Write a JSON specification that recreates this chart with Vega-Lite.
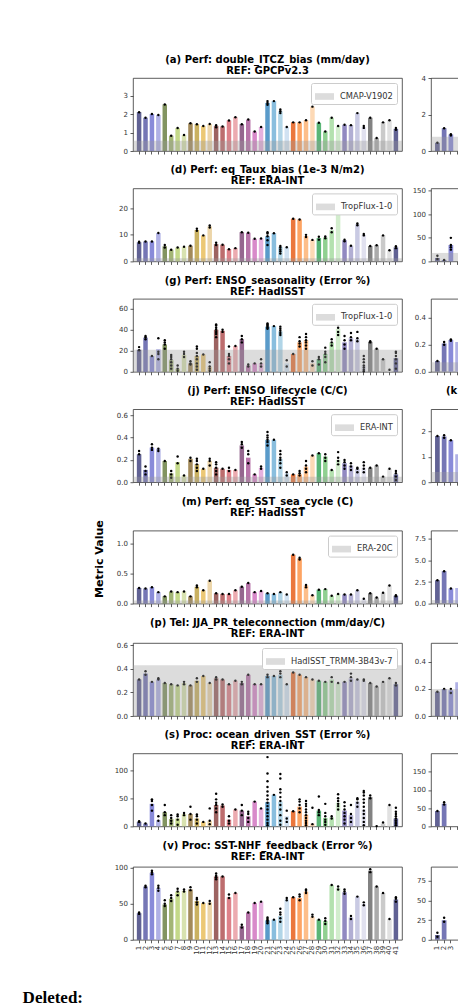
{
"$schema": "https://vega.github.io/schema/vega-lite/v6.json",
"background": "white",
"padding": {"left": 22, "top": 54, "right": 0, "bottom": 0},
"columns": 2,
"spacing": {"row": 9.4, "column": 8},
"resolve": {"scale": {"fill": "independent"}, "legend": {"fill": "independent"}},
"title": {"text": "Deleted:", "orient": "bottom", "anchor": "start", "frame": "bounds", "font": "Liberation Serif", "fontSize": 17, "fontWeight": "bold", "color": "black", "dx": -70, "offset": 35},
"datasets": {
"refs": [
{"p":"a","v":0.55,"n":"CMAP-V1902"},{"p":"d","v":1.2,"n":"TropFlux-1-0"},{"p":"g","v":21,"n":"TropFlux-1-0"},{"p":"j","v":0.05,"n":"ERA-INT"},{"p":"m","v":0.05,"n":"ERA-20C"},{"p":"pp","v":0.43,"n":"HadISST_TRMM-3B43v-7"},
{"p":"b","v":0.78,"n":"ref"},{"p":"e","v":18,"n":"ref"},{"p":"h","v":0.07,"n":"ref"},{"p":"k","v":0.4,"n":"ref"},{"p":"n","v":0.4,"n":"ref"},{"p":"q","v":0.2,"n":"ref"}
],
"bars": [
{"p":"a","m":1,"v":2.1},{"p":"a","m":2,"v":1.8},{"p":"a","m":3,"v":2.0},{"p":"a","m":4,"v":1.95},{"p":"a","m":5,"v":2.52},{"p":"a","m":6,"v":0.83},{"p":"a","m":7,"v":1.24},{"p":"a","m":8,"v":0.87},{"p":"a","m":9,"v":1.5},{"p":"a","m":10,"v":1.45},{"p":"a","m":11,"v":1.35},{"p":"a","m":12,"v":1.46},{"p":"a","m":13,"v":1.35},{"p":"a","m":14,"v":1.33},{"p":"a","m":15,"v":1.65},{"p":"a","m":16,"v":1.83},{"p":"a","m":17,"v":1.45},{"p":"a","m":18,"v":1.7},{"p":"a","m":19,"v":1.05},{"p":"a","m":20,"v":1.3},{"p":"a","m":21,"v":2.6},{"p":"a","m":22,"v":2.7},{"p":"a","m":23,"v":2.15},{"p":"a","m":24,"v":1.3},{"p":"a","m":25,"v":1.55},{"p":"a","m":26,"v":1.55},{"p":"a","m":27,"v":1.66},{"p":"a","m":28,"v":2.4},{"p":"a","m":29,"v":1.53},{"p":"a","m":30,"v":1.06},{"p":"a","m":31,"v":1.8},{"p":"a","m":32,"v":1.35},{"p":"a","m":33,"v":1.42},{"p":"a","m":34,"v":1.4},{"p":"a","m":35,"v":2.05},{"p":"a","m":36,"v":1.3},{"p":"a","m":37,"v":1.8},{"p":"a","m":38,"v":0.7},{"p":"a","m":39,"v":1.55},{"p":"a","m":40,"v":1.66},{"p":"a","m":41,"v":1.2},
{"p":"d","m":1,"v":7.2},{"p":"d","m":2,"v":7.5},{"p":"d","m":3,"v":7.5},{"p":"d","m":4,"v":10.7},{"p":"d","m":5,"v":5.7},{"p":"d","m":6,"v":4.4},{"p":"d","m":7,"v":5.2},{"p":"d","m":8,"v":5.5},{"p":"d","m":9,"v":5.9},{"p":"d","m":10,"v":11.8},{"p":"d","m":11,"v":9.8},{"p":"d","m":12,"v":13.2},{"p":"d","m":13,"v":6.5},{"p":"d","m":14,"v":6.3},{"p":"d","m":15,"v":4.6},{"p":"d","m":16,"v":5.0},{"p":"d","m":17,"v":11.0},{"p":"d","m":18,"v":10.8},{"p":"d","m":19,"v":8.5},{"p":"d","m":20,"v":8.6},{"p":"d","m":21,"v":9.5},{"p":"d","m":22,"v":10.6},{"p":"d","m":23,"v":5.5},{"p":"d","m":24,"v":5.3},{"p":"d","m":25,"v":16.1},{"p":"d","m":26,"v":15.8},{"p":"d","m":27,"v":9.5},{"p":"d","m":28,"v":8.1},{"p":"d","m":29,"v":8.8},{"p":"d","m":30,"v":9.0},{"p":"d","m":31,"v":11.7},{"p":"d","m":32,"v":18.6},{"p":"d","m":33,"v":8.0},{"p":"d","m":34,"v":5.9},{"p":"d","m":35,"v":14.0},{"p":"d","m":36,"v":10.0},{"p":"d","m":37,"v":5.8},{"p":"d","m":38,"v":6.1},{"p":"d","m":39,"v":9.8},{"p":"d","m":40,"v":4.2},{"p":"d","m":41,"v":5.3},
{"p":"g","m":1,"v":21},{"p":"g","m":2,"v":32.5},{"p":"g","m":3,"v":15},{"p":"g","m":4,"v":21.5},{"p":"g","m":5,"v":26},{"p":"g","m":6,"v":11},{"p":"g","m":7,"v":3},{"p":"g","m":8,"v":16},{"p":"g","m":9,"v":8},{"p":"g","m":10,"v":15},{"p":"g","m":11,"v":16.5},{"p":"g","m":12,"v":5},{"p":"g","m":13,"v":40},{"p":"g","m":14,"v":39},{"p":"g","m":15,"v":15},{"p":"g","m":16,"v":24.5},{"p":"g","m":17,"v":31},{"p":"g","m":18,"v":6},{"p":"g","m":19,"v":8},{"p":"g","m":20,"v":8},{"p":"g","m":21,"v":43},{"p":"g","m":22,"v":43.5},{"p":"g","m":23,"v":38.5},{"p":"g","m":24,"v":8},{"p":"g","m":25,"v":17},{"p":"g","m":26,"v":28},{"p":"g","m":27,"v":30},{"p":"g","m":28,"v":8},{"p":"g","m":29,"v":12},{"p":"g","m":30,"v":17},{"p":"g","m":31,"v":28},{"p":"g","m":32,"v":41},{"p":"g","m":33,"v":28},{"p":"g","m":34,"v":32},{"p":"g","m":35,"v":31},{"p":"g","m":36,"v":6},{"p":"g","m":37,"v":28.5},{"p":"g","m":38,"v":22},{"p":"g","m":39,"v":12},{"p":"g","m":40,"v":2},{"p":"g","m":41,"v":13},
{"p":"j","m":1,"v":0.25},{"p":"j","m":2,"v":0.11},{"p":"j","m":3,"v":0.31},{"p":"j","m":4,"v":0.3},{"p":"j","m":5,"v":0.19},{"p":"j","m":6,"v":0.08},{"p":"j","m":7,"v":0.18},{"p":"j","m":8,"v":0.06},{"p":"j","m":9,"v":0.21},{"p":"j","m":10,"v":0.16},{"p":"j","m":11,"v":0.12},{"p":"j","m":12,"v":0.19},{"p":"j","m":13,"v":0.13},{"p":"j","m":14,"v":0.12},{"p":"j","m":15,"v":0.11},{"p":"j","m":16,"v":0.11},{"p":"j","m":17,"v":0.33},{"p":"j","m":18,"v":0.22},{"p":"j","m":19,"v":0.07},{"p":"j","m":20,"v":0.13},{"p":"j","m":21,"v":0.38},{"p":"j","m":22,"v":0.38},{"p":"j","m":23,"v":0.21},{"p":"j","m":24,"v":0.08},{"p":"j","m":25,"v":0.07},{"p":"j","m":26,"v":0.07},{"p":"j","m":27,"v":0.14},{"p":"j","m":28,"v":0.24},{"p":"j","m":29,"v":0.26},{"p":"j","m":30,"v":0.23},{"p":"j","m":31,"v":0.11},{"p":"j","m":32,"v":0.2},{"p":"j","m":33,"v":0.17},{"p":"j","m":34,"v":0.15},{"p":"j","m":35,"v":0.12},{"p":"j","m":36,"v":0.13},{"p":"j","m":37,"v":0.13},{"p":"j","m":38,"v":0.15},{"p":"j","m":39,"v":0.05},{"p":"j","m":40,"v":0.12},{"p":"j","m":41,"v":0.07},
{"p":"m","m":1,"v":0.26},{"p":"m","m":2,"v":0.25},{"p":"m","m":3,"v":0.27},{"p":"m","m":4,"v":0.19},{"p":"m","m":5,"v":0.12},{"p":"m","m":6,"v":0.2},{"p":"m","m":7,"v":0.19},{"p":"m","m":8,"v":0.2},{"p":"m","m":9,"v":0.12},{"p":"m","m":10,"v":0.28},{"p":"m","m":11,"v":0.22},{"p":"m","m":12,"v":0.38},{"p":"m","m":13,"v":0.17},{"p":"m","m":14,"v":0.16},{"p":"m","m":15,"v":0.16},{"p":"m","m":16,"v":0.22},{"p":"m","m":17,"v":0.28},{"p":"m","m":18,"v":0.34},{"p":"m","m":19,"v":0.19},{"p":"m","m":20,"v":0.21},{"p":"m","m":21,"v":0.17},{"p":"m","m":22,"v":0.16},{"p":"m","m":23,"v":0.19},{"p":"m","m":24,"v":0.15},{"p":"m","m":25,"v":0.81},{"p":"m","m":26,"v":0.75},{"p":"m","m":27,"v":0.3},{"p":"m","m":28,"v":0.14},{"p":"m","m":29,"v":0.23},{"p":"m","m":30,"v":0.24},{"p":"m","m":31,"v":0.13},{"p":"m","m":32,"v":0.16},{"p":"m","m":33,"v":0.15},{"p":"m","m":34,"v":0.15},{"p":"m","m":35,"v":0.22},{"p":"m","m":36,"v":0.08},{"p":"m","m":37,"v":0.17},{"p":"m","m":38,"v":0.1},{"p":"m","m":39,"v":0.18},{"p":"m","m":40,"v":0.3},{"p":"m","m":41,"v":0.13},
{"p":"pp","m":1,"v":0.31},{"p":"pp","m":2,"v":0.36},{"p":"pp","m":3,"v":0.29},{"p":"pp","m":4,"v":0.31},{"p":"pp","m":5,"v":0.28},{"p":"pp","m":6,"v":0.27},{"p":"pp","m":7,"v":0.26},{"p":"pp","m":8,"v":0.28},{"p":"pp","m":9,"v":0.26},{"p":"pp","m":10,"v":0.3},{"p":"pp","m":11,"v":0.34},{"p":"pp","m":12,"v":0.28},{"p":"pp","m":13,"v":0.32},{"p":"pp","m":14,"v":0.31},{"p":"pp","m":15,"v":0.27},{"p":"pp","m":16,"v":0.3},{"p":"pp","m":17,"v":0.28},{"p":"pp","m":18,"v":0.35},{"p":"pp","m":19,"v":0.27},{"p":"pp","m":20,"v":0.27},{"p":"pp","m":21,"v":0.34},{"p":"pp","m":22,"v":0.34},{"p":"pp","m":23,"v":0.35},{"p":"pp","m":24,"v":0.27},{"p":"pp","m":25,"v":0.37},{"p":"pp","m":26,"v":0.35},{"p":"pp","m":27,"v":0.33},{"p":"pp","m":28,"v":0.31},{"p":"pp","m":29,"v":0.3},{"p":"pp","m":30,"v":0.29},{"p":"pp","m":31,"v":0.31},{"p":"pp","m":32,"v":0.28},{"p":"pp","m":33,"v":0.29},{"p":"pp","m":34,"v":0.32},{"p":"pp","m":35,"v":0.31},{"p":"pp","m":36,"v":0.3},{"p":"pp","m":37,"v":0.28},{"p":"pp","m":38,"v":0.25},{"p":"pp","m":39,"v":0.29},{"p":"pp","m":40,"v":0.32},{"p":"pp","m":41,"v":0.27},
{"p":"s","m":1,"v":8},{"p":"s","m":2,"v":5},{"p":"s","m":3,"v":40},{"p":"s","m":4,"v":11},{"p":"s","m":5,"v":25},{"p":"s","m":6,"v":13},{"p":"s","m":7,"v":14},{"p":"s","m":8,"v":22},{"p":"s","m":9,"v":22},{"p":"s","m":10,"v":14},{"p":"s","m":11,"v":8},{"p":"s","m":12,"v":10},{"p":"s","m":13,"v":38},{"p":"s","m":14,"v":37},{"p":"s","m":15,"v":12},{"p":"s","m":16,"v":30},{"p":"s","m":17,"v":28},{"p":"s","m":18,"v":18},{"p":"s","m":19,"v":44},{"p":"s","m":20,"v":32},{"p":"s","m":21,"v":43},{"p":"s","m":22,"v":56},{"p":"s","m":23,"v":44},{"p":"s","m":24,"v":18},{"p":"s","m":25,"v":27},{"p":"s","m":26,"v":35},{"p":"s","m":27,"v":21},{"p":"s","m":28,"v":5},{"p":"s","m":29,"v":28},{"p":"s","m":30,"v":15},{"p":"s","m":31,"v":16},{"p":"s","m":32,"v":42},{"p":"s","m":33,"v":28},{"p":"s","m":34,"v":20},{"p":"s","m":35,"v":44},{"p":"s","m":36,"v":30},{"p":"s","m":37,"v":52},{"p":"s","m":38,"v":0.5},{"p":"s","m":39,"v":5},{"p":"s","m":40,"v":37},{"p":"s","m":41,"v":14},
{"p":"v","m":1,"v":37},{"p":"v","m":2,"v":74},{"p":"v","m":3,"v":93},{"p":"v","m":4,"v":72},{"p":"v","m":5,"v":49},{"p":"v","m":6,"v":57},{"p":"v","m":7,"v":67},{"p":"v","m":8,"v":68},{"p":"v","m":9,"v":70},{"p":"v","m":10,"v":54},{"p":"v","m":11,"v":51},{"p":"v","m":12,"v":52},{"p":"v","m":13,"v":88},{"p":"v","m":14,"v":88},{"p":"v","m":15,"v":59},{"p":"v","m":16,"v":65},{"p":"v","m":17,"v":19},{"p":"v","m":18,"v":38},{"p":"v","m":19,"v":51},{"p":"v","m":20,"v":53},{"p":"v","m":21,"v":27},{"p":"v","m":22,"v":28},{"p":"v","m":23,"v":33},{"p":"v","m":24,"v":56},{"p":"v","m":25,"v":59},{"p":"v","m":26,"v":58},{"p":"v","m":27,"v":67},{"p":"v","m":28,"v":32},{"p":"v","m":29,"v":28},{"p":"v","m":30,"v":26},{"p":"v","m":31,"v":76},{"p":"v","m":32,"v":72},{"p":"v","m":33,"v":66},{"p":"v","m":34,"v":31},{"p":"v","m":35,"v":60},{"p":"v","m":36,"v":50},{"p":"v","m":37,"v":96},{"p":"v","m":38,"v":74},{"p":"v","m":39,"v":65},{"p":"v","m":40,"v":29},{"p":"v","m":41,"v":56},
{"p":"b","m":1,"v":0.45},{"p":"b","m":2,"v":1.25},{"p":"b","m":3,"v":0.9},
{"p":"e","m":1,"v":7},{"p":"e","m":2,"v":3},{"p":"e","m":3,"v":35},
{"p":"h","m":1,"v":0.08},{"p":"h","m":2,"v":0.21},{"p":"h","m":3,"v":0.235},{"p":"h","m":4,"v":0.22},
{"p":"k","m":1,"v":1.82},{"p":"k","m":2,"v":1.8},{"p":"k","m":3,"v":1.65},{"p":"k","m":4,"v":1.1},
{"p":"n","m":1,"v":2.7},{"p":"n","m":2,"v":3.75},{"p":"n","m":3,"v":1.75},{"p":"n","m":4,"v":1.8},
{"p":"q","m":1,"v":0.18},{"p":"q","m":2,"v":0.2},{"p":"q","m":3,"v":0.19},{"p":"q","m":4,"v":0.25},
{"p":"t","m":1,"v":42},{"p":"t","m":2,"v":62},
{"p":"w","m":1,"v":6},{"p":"w","m":2,"v":25}
],
"dots": [
{"p":"a","m":1,"v":2.1},{"p":"a","m":2,"v":1.8},{"p":"a","m":3,"v":2.0},{"p":"a","m":4,"v":1.95},{"p":"a","m":5,"v":2.52},{"p":"a","m":6,"v":0.83},{"p":"a","m":7,"v":1.24},{"p":"a","m":8,"v":0.87},{"p":"a","m":9,"v":1.5},{"p":"a","m":10,"v":1.45},{"p":"a","m":11,"v":1.35},{"p":"a","m":12,"v":1.46},{"p":"a","m":13,"v":1.28},{"p":"a","m":13,"v":1.4},{"p":"a","m":14,"v":1.33},{"p":"a","m":15,"v":1.65},{"p":"a","m":16,"v":1.83},{"p":"a","m":17,"v":1.45},{"p":"a","m":18,"v":1.7},{"p":"a","m":19,"v":1.05},{"p":"a","m":20,"v":1.3},{"p":"a","m":21,"v":2.5},{"p":"a","m":21,"v":2.6},{"p":"a","m":21,"v":2.7},{"p":"a","m":22,"v":2.7},{"p":"a","m":23,"v":2.05},{"p":"a","m":23,"v":2.15},{"p":"a","m":23,"v":2.25},{"p":"a","m":24,"v":1.3},{"p":"a","m":25,"v":1.55},{"p":"a","m":26,"v":1.55},{"p":"a","m":27,"v":1.66},{"p":"a","m":28,"v":2.4},{"p":"a","m":29,"v":1.53},{"p":"a","m":30,"v":1.06},{"p":"a","m":31,"v":1.8},{"p":"a","m":32,"v":1.35},{"p":"a","m":33,"v":1.42},{"p":"a","m":34,"v":1.4},{"p":"a","m":35,"v":2.05},{"p":"a","m":36,"v":1.25},{"p":"a","m":36,"v":1.35},{"p":"a","m":37,"v":1.8},{"p":"a","m":38,"v":0.7},{"p":"a","m":39,"v":1.55},{"p":"a","m":40,"v":1.66},{"p":"a","m":41,"v":1.15},{"p":"a","m":41,"v":1.25},
{"p":"d","m":1,"v":7.0},{"p":"d","m":1,"v":7.4},{"p":"d","m":2,"v":7.5},{"p":"d","m":3,"v":7.5},{"p":"d","m":4,"v":10.7},{"p":"d","m":5,"v":5.2},{"p":"d","m":5,"v":6.2},{"p":"d","m":6,"v":4.4},{"p":"d","m":7,"v":5.2},{"p":"d","m":8,"v":5.5},{"p":"d","m":9,"v":5.9},{"p":"d","m":10,"v":11.5},{"p":"d","m":10,"v":12.3},{"p":"d","m":11,"v":9.8},{"p":"d","m":12,"v":12.8},{"p":"d","m":12,"v":13.5},{"p":"d","m":13,"v":6.2},{"p":"d","m":13,"v":7.0},{"p":"d","m":14,"v":6.3},{"p":"d","m":15,"v":4.6},{"p":"d","m":16,"v":5.0},{"p":"d","m":17,"v":11.0},{"p":"d","m":18,"v":10.8},{"p":"d","m":19,"v":8.5},{"p":"d","m":20,"v":8.6},{"p":"d","m":21,"v":6.2},{"p":"d","m":21,"v":8.0},{"p":"d","m":21,"v":9.5},{"p":"d","m":21,"v":10.5},{"p":"d","m":21,"v":11.0},{"p":"d","m":22,"v":10.6},{"p":"d","m":23,"v":3.0},{"p":"d","m":23,"v":3.8},{"p":"d","m":23,"v":4.5},{"p":"d","m":23,"v":5.2},{"p":"d","m":23,"v":5.8},{"p":"d","m":24,"v":5.3},{"p":"d","m":25,"v":16.1},{"p":"d","m":26,"v":15.8},{"p":"d","m":27,"v":9.2},{"p":"d","m":27,"v":10.0},{"p":"d","m":28,"v":8.1},{"p":"d","m":29,"v":8.2},{"p":"d","m":29,"v":9.3},{"p":"d","m":30,"v":8.7},{"p":"d","m":30,"v":9.4},{"p":"d","m":31,"v":11.0},{"p":"d","m":31,"v":12.5},{"p":"d","m":32,"v":18.6},{"p":"d","m":33,"v":7.6},{"p":"d","m":33,"v":8.2},{"p":"d","m":34,"v":5.9},{"p":"d","m":35,"v":13.6},{"p":"d","m":35,"v":14.3},{"p":"d","m":36,"v":9.8},{"p":"d","m":36,"v":10.3},{"p":"d","m":37,"v":5.8},{"p":"d","m":38,"v":6.1},{"p":"d","m":39,"v":9.8},{"p":"d","m":40,"v":4.2},{"p":"d","m":41,"v":5.0},{"p":"d","m":41,"v":5.7},
{"p":"g","m":1,"v":20.5},{"p":"g","m":1,"v":23.5},{"p":"g","m":2,"v":31},{"p":"g","m":2,"v":33},{"p":"g","m":2,"v":34},{"p":"g","m":3,"v":15},{"p":"g","m":4,"v":12},{"p":"g","m":4,"v":17},{"p":"g","m":4,"v":19},{"p":"g","m":4,"v":32},{"p":"g","m":5,"v":22},{"p":"g","m":5,"v":26},{"p":"g","m":5,"v":28},{"p":"g","m":5,"v":30},{"p":"g","m":6,"v":3},{"p":"g","m":6,"v":6},{"p":"g","m":6,"v":9},{"p":"g","m":6,"v":12},{"p":"g","m":6,"v":14},{"p":"g","m":6,"v":16},{"p":"g","m":7,"v":1},{"p":"g","m":7,"v":3},{"p":"g","m":7,"v":6},{"p":"g","m":8,"v":14},{"p":"g","m":8,"v":17},{"p":"g","m":8,"v":19},{"p":"g","m":9,"v":7},{"p":"g","m":9,"v":8},{"p":"g","m":9,"v":10},{"p":"g","m":10,"v":2},{"p":"g","m":10,"v":5},{"p":"g","m":10,"v":8},{"p":"g","m":10,"v":12},{"p":"g","m":10,"v":15},{"p":"g","m":10,"v":18},{"p":"g","m":10,"v":22},{"p":"g","m":10,"v":24},{"p":"g","m":11,"v":16.5},{"p":"g","m":12,"v":1},{"p":"g","m":12,"v":3},{"p":"g","m":12,"v":5},{"p":"g","m":12,"v":9},{"p":"g","m":13,"v":33},{"p":"g","m":13,"v":36},{"p":"g","m":13,"v":38},{"p":"g","m":13,"v":40},{"p":"g","m":13,"v":42},{"p":"g","m":13,"v":44},{"p":"g","m":13,"v":45},{"p":"g","m":14,"v":38},{"p":"g","m":14,"v":40},{"p":"g","m":15,"v":8},{"p":"g","m":15,"v":12},{"p":"g","m":15,"v":15},{"p":"g","m":15,"v":17},{"p":"g","m":15,"v":24},{"p":"g","m":16,"v":24.5},{"p":"g","m":17,"v":28},{"p":"g","m":17,"v":31},{"p":"g","m":17,"v":34},{"p":"g","m":18,"v":5},{"p":"g","m":18,"v":7},{"p":"g","m":19,"v":8},{"p":"g","m":20,"v":5},{"p":"g","m":20,"v":8},{"p":"g","m":20,"v":12},{"p":"g","m":21,"v":41},{"p":"g","m":21,"v":42},{"p":"g","m":21,"v":43},{"p":"g","m":21,"v":44},{"p":"g","m":21,"v":45},{"p":"g","m":21,"v":46},{"p":"g","m":22,"v":43.5},{"p":"g","m":23,"v":35},{"p":"g","m":23,"v":37},{"p":"g","m":23,"v":39},{"p":"g","m":23,"v":41},{"p":"g","m":23,"v":43},{"p":"g","m":24,"v":5},{"p":"g","m":24,"v":11},{"p":"g","m":25,"v":17},{"p":"g","m":26,"v":24},{"p":"g","m":26,"v":27},{"p":"g","m":26,"v":29},{"p":"g","m":26,"v":33},{"p":"g","m":27,"v":22},{"p":"g","m":27,"v":25},{"p":"g","m":27,"v":28},{"p":"g","m":27,"v":30},{"p":"g","m":27,"v":33},{"p":"g","m":27,"v":36},{"p":"g","m":28,"v":6},{"p":"g","m":28,"v":10},{"p":"g","m":29,"v":7},{"p":"g","m":29,"v":12},{"p":"g","m":29,"v":14},{"p":"g","m":30,"v":9},{"p":"g","m":30,"v":14},{"p":"g","m":30,"v":17},{"p":"g","m":30,"v":19},{"p":"g","m":30,"v":23},{"p":"g","m":31,"v":25},{"p":"g","m":31,"v":28},{"p":"g","m":31,"v":31},{"p":"g","m":32,"v":35},{"p":"g","m":32,"v":38},{"p":"g","m":32,"v":42},{"p":"g","m":32,"v":45},{"p":"g","m":32,"v":47},{"p":"g","m":33,"v":22},{"p":"g","m":33,"v":26},{"p":"g","m":33,"v":30},{"p":"g","m":33,"v":34},{"p":"g","m":34,"v":30},{"p":"g","m":34,"v":33},{"p":"g","m":34,"v":37},{"p":"g","m":35,"v":29},{"p":"g","m":35,"v":32},{"p":"g","m":35,"v":38},{"p":"g","m":36,"v":0.5},{"p":"g","m":36,"v":2},{"p":"g","m":36,"v":4},{"p":"g","m":36,"v":6},{"p":"g","m":36,"v":9},{"p":"g","m":36,"v":12},{"p":"g","m":36,"v":15},{"p":"g","m":37,"v":28},{"p":"g","m":37,"v":29},{"p":"g","m":38,"v":22},{"p":"g","m":39,"v":12},{"p":"g","m":40,"v":2},{"p":"g","m":41,"v":3},{"p":"g","m":41,"v":8},{"p":"g","m":41,"v":12},{"p":"g","m":41,"v":15},{"p":"g","m":41,"v":18},{"p":"g","m":41,"v":19},
{"p":"j","m":1,"v":0.25},{"p":"j","m":1,"v":0.28},{"p":"j","m":2,"v":0.07},{"p":"j","m":2,"v":0.1},{"p":"j","m":2,"v":0.14},{"p":"j","m":3,"v":0.29},{"p":"j","m":3,"v":0.31},{"p":"j","m":3,"v":0.34},{"p":"j","m":4,"v":0.28},{"p":"j","m":4,"v":0.3},{"p":"j","m":5,"v":0.19},{"p":"j","m":6,"v":0.04},{"p":"j","m":6,"v":0.07},{"p":"j","m":6,"v":0.1},{"p":"j","m":7,"v":0.17},{"p":"j","m":7,"v":0.23},{"p":"j","m":8,"v":0.06},{"p":"j","m":9,"v":0.19},{"p":"j","m":9,"v":0.22},{"p":"j","m":10,"v":0.1},{"p":"j","m":10,"v":0.13},{"p":"j","m":10,"v":0.16},{"p":"j","m":10,"v":0.19},{"p":"j","m":10,"v":0.21},{"p":"j","m":11,"v":0.12},{"p":"j","m":12,"v":0.15},{"p":"j","m":12,"v":0.19},{"p":"j","m":12,"v":0.21},{"p":"j","m":13,"v":0.07},{"p":"j","m":13,"v":0.1},{"p":"j","m":13,"v":0.13},{"p":"j","m":13,"v":0.16},{"p":"j","m":13,"v":0.18},{"p":"j","m":14,"v":0.12},{"p":"j","m":15,"v":0.1},{"p":"j","m":15,"v":0.13},{"p":"j","m":16,"v":0.11},{"p":"j","m":17,"v":0.31},{"p":"j","m":17,"v":0.34},{"p":"j","m":17,"v":0.36},{"p":"j","m":18,"v":0.17},{"p":"j","m":18,"v":0.25},{"p":"j","m":18,"v":0.28},{"p":"j","m":19,"v":0.07},{"p":"j","m":20,"v":0.12},{"p":"j","m":20,"v":0.14},{"p":"j","m":21,"v":0.33},{"p":"j","m":21,"v":0.36},{"p":"j","m":21,"v":0.38},{"p":"j","m":21,"v":0.4},{"p":"j","m":21,"v":0.42},{"p":"j","m":21,"v":0.45},{"p":"j","m":22,"v":0.38},{"p":"j","m":23,"v":0.13},{"p":"j","m":23,"v":0.17},{"p":"j","m":23,"v":0.2},{"p":"j","m":23,"v":0.22},{"p":"j","m":23,"v":0.25},{"p":"j","m":23,"v":0.28},{"p":"j","m":24,"v":0.06},{"p":"j","m":24,"v":0.09},{"p":"j","m":25,"v":0.07},{"p":"j","m":26,"v":0.06},{"p":"j","m":26,"v":0.08},{"p":"j","m":26,"v":0.1},{"p":"j","m":27,"v":0.09},{"p":"j","m":27,"v":0.12},{"p":"j","m":27,"v":0.15},{"p":"j","m":27,"v":0.19},{"p":"j","m":28,"v":0.24},{"p":"j","m":29,"v":0.26},{"p":"j","m":30,"v":0.19},{"p":"j","m":30,"v":0.22},{"p":"j","m":30,"v":0.25},{"p":"j","m":31,"v":0.11},{"p":"j","m":32,"v":0.16},{"p":"j","m":32,"v":0.19},{"p":"j","m":32,"v":0.22},{"p":"j","m":32,"v":0.27},{"p":"j","m":33,"v":0.12},{"p":"j","m":33,"v":0.15},{"p":"j","m":33,"v":0.18},{"p":"j","m":33,"v":0.2},{"p":"j","m":34,"v":0.11},{"p":"j","m":34,"v":0.14},{"p":"j","m":34,"v":0.17},{"p":"j","m":35,"v":0.09},{"p":"j","m":35,"v":0.12},{"p":"j","m":35,"v":0.13},{"p":"j","m":36,"v":0.09},{"p":"j","m":36,"v":0.12},{"p":"j","m":36,"v":0.15},{"p":"j","m":36,"v":0.18},{"p":"j","m":37,"v":0.13},{"p":"j","m":38,"v":0.15},{"p":"j","m":39,"v":0.05},{"p":"j","m":40,"v":0.12},{"p":"j","m":41,"v":0.02},{"p":"j","m":41,"v":0.05},{"p":"j","m":41,"v":0.08},{"p":"j","m":41,"v":0.1},
{"p":"m","m":1,"v":0.26},{"p":"m","m":2,"v":0.25},{"p":"m","m":3,"v":0.27},{"p":"m","m":4,"v":0.19},{"p":"m","m":5,"v":0.12},{"p":"m","m":6,"v":0.2},{"p":"m","m":7,"v":0.19},{"p":"m","m":8,"v":0.2},{"p":"m","m":9,"v":0.12},{"p":"m","m":10,"v":0.27},{"p":"m","m":10,"v":0.3},{"p":"m","m":11,"v":0.22},{"p":"m","m":12,"v":0.38},{"p":"m","m":13,"v":0.17},{"p":"m","m":14,"v":0.16},{"p":"m","m":15,"v":0.16},{"p":"m","m":16,"v":0.22},{"p":"m","m":17,"v":0.28},{"p":"m","m":18,"v":0.34},{"p":"m","m":19,"v":0.19},{"p":"m","m":20,"v":0.21},{"p":"m","m":21,"v":0.17},{"p":"m","m":22,"v":0.16},{"p":"m","m":23,"v":0.19},{"p":"m","m":24,"v":0.15},{"p":"m","m":25,"v":0.81},{"p":"m","m":26,"v":0.73},{"p":"m","m":26,"v":0.76},{"p":"m","m":27,"v":0.27},{"p":"m","m":27,"v":0.31},{"p":"m","m":28,"v":0.14},{"p":"m","m":29,"v":0.23},{"p":"m","m":30,"v":0.24},{"p":"m","m":31,"v":0.13},{"p":"m","m":32,"v":0.16},{"p":"m","m":33,"v":0.15},{"p":"m","m":34,"v":0.15},{"p":"m","m":35,"v":0.22},{"p":"m","m":36,"v":0.08},{"p":"m","m":37,"v":0.17},{"p":"m","m":38,"v":0.1},{"p":"m","m":39,"v":0.18},{"p":"m","m":40,"v":0.3},{"p":"m","m":41,"v":0.12},{"p":"m","m":41,"v":0.14},
{"p":"pp","m":1,"v":0.31},{"p":"pp","m":2,"v":0.35},{"p":"pp","m":2,"v":0.38},{"p":"pp","m":3,"v":0.29},{"p":"pp","m":4,"v":0.31},{"p":"pp","m":4,"v":0.32},{"p":"pp","m":5,"v":0.28},{"p":"pp","m":6,"v":0.27},{"p":"pp","m":7,"v":0.26},{"p":"pp","m":8,"v":0.27},{"p":"pp","m":8,"v":0.29},{"p":"pp","m":9,"v":0.26},{"p":"pp","m":10,"v":0.29},{"p":"pp","m":10,"v":0.32},{"p":"pp","m":11,"v":0.34},{"p":"pp","m":12,"v":0.28},{"p":"pp","m":13,"v":0.31},{"p":"pp","m":13,"v":0.33},{"p":"pp","m":14,"v":0.31},{"p":"pp","m":15,"v":0.27},{"p":"pp","m":16,"v":0.3},{"p":"pp","m":17,"v":0.27},{"p":"pp","m":17,"v":0.29},{"p":"pp","m":18,"v":0.35},{"p":"pp","m":19,"v":0.27},{"p":"pp","m":20,"v":0.27},{"p":"pp","m":21,"v":0.33},{"p":"pp","m":21,"v":0.35},{"p":"pp","m":22,"v":0.34},{"p":"pp","m":23,"v":0.33},{"p":"pp","m":23,"v":0.36},{"p":"pp","m":23,"v":0.38},{"p":"pp","m":24,"v":0.27},{"p":"pp","m":25,"v":0.37},{"p":"pp","m":26,"v":0.35},{"p":"pp","m":27,"v":0.33},{"p":"pp","m":28,"v":0.31},{"p":"pp","m":29,"v":0.3},{"p":"pp","m":30,"v":0.29},{"p":"pp","m":31,"v":0.29},{"p":"pp","m":31,"v":0.33},{"p":"pp","m":32,"v":0.28},{"p":"pp","m":33,"v":0.29},{"p":"pp","m":34,"v":0.3},{"p":"pp","m":34,"v":0.33},{"p":"pp","m":34,"v":0.36},{"p":"pp","m":35,"v":0.31},{"p":"pp","m":36,"v":0.3},{"p":"pp","m":36,"v":0.31},{"p":"pp","m":37,"v":0.28},{"p":"pp","m":38,"v":0.25},{"p":"pp","m":39,"v":0.29},{"p":"pp","m":40,"v":0.32},{"p":"pp","m":41,"v":0.26},{"p":"pp","m":41,"v":0.28},
{"p":"s","m":1,"v":8},{"p":"s","m":1,"v":9},{"p":"s","m":2,"v":5},{"p":"s","m":3,"v":28},{"p":"s","m":3,"v":38},{"p":"s","m":3,"v":45},{"p":"s","m":3,"v":48},{"p":"s","m":4,"v":10},{"p":"s","m":4,"v":18},{"p":"s","m":5,"v":20},{"p":"s","m":5,"v":25},{"p":"s","m":5,"v":38},{"p":"s","m":6,"v":5},{"p":"s","m":6,"v":10},{"p":"s","m":6,"v":15},{"p":"s","m":6,"v":20},{"p":"s","m":7,"v":3},{"p":"s","m":7,"v":12},{"p":"s","m":7,"v":18},{"p":"s","m":7,"v":21},{"p":"s","m":8,"v":20},{"p":"s","m":8,"v":24},{"p":"s","m":9,"v":12},{"p":"s","m":9,"v":22},{"p":"s","m":9,"v":35},{"p":"s","m":10,"v":5},{"p":"s","m":10,"v":12},{"p":"s","m":10,"v":18},{"p":"s","m":10,"v":21},{"p":"s","m":11,"v":8},{"p":"s","m":12,"v":4},{"p":"s","m":12,"v":10},{"p":"s","m":12,"v":32},{"p":"s","m":13,"v":25},{"p":"s","m":13,"v":32},{"p":"s","m":13,"v":38},{"p":"s","m":13,"v":42},{"p":"s","m":13,"v":48},{"p":"s","m":13,"v":58},{"p":"s","m":14,"v":35},{"p":"s","m":14,"v":39},{"p":"s","m":15,"v":5},{"p":"s","m":15,"v":10},{"p":"s","m":15,"v":18},{"p":"s","m":16,"v":30},{"p":"s","m":17,"v":20},{"p":"s","m":17,"v":28},{"p":"s","m":17,"v":38},{"p":"s","m":18,"v":8},{"p":"s","m":18,"v":15},{"p":"s","m":18,"v":22},{"p":"s","m":18,"v":26},{"p":"s","m":19,"v":44},{"p":"s","m":20,"v":32},{"p":"s","m":21,"v":2},{"p":"s","m":21,"v":6},{"p":"s","m":21,"v":12},{"p":"s","m":21,"v":18},{"p":"s","m":21,"v":24},{"p":"s","m":21,"v":30},{"p":"s","m":21,"v":36},{"p":"s","m":21,"v":42},{"p":"s","m":21,"v":48},{"p":"s","m":21,"v":55},{"p":"s","m":21,"v":62},{"p":"s","m":21,"v":70},{"p":"s","m":21,"v":80},{"p":"s","m":21,"v":94},{"p":"s","m":21,"v":123},{"p":"s","m":22,"v":56},{"p":"s","m":23,"v":3},{"p":"s","m":23,"v":10},{"p":"s","m":23,"v":20},{"p":"s","m":23,"v":30},{"p":"s","m":23,"v":38},{"p":"s","m":23,"v":45},{"p":"s","m":23,"v":52},{"p":"s","m":23,"v":60},{"p":"s","m":23,"v":66},{"p":"s","m":23,"v":85},{"p":"s","m":23,"v":93},{"p":"s","m":24,"v":8},{"p":"s","m":24,"v":14},{"p":"s","m":24,"v":28},{"p":"s","m":25,"v":27},{"p":"s","m":26,"v":25},{"p":"s","m":26,"v":32},{"p":"s","m":26,"v":38},{"p":"s","m":26,"v":44},{"p":"s","m":26,"v":48},{"p":"s","m":27,"v":2},{"p":"s","m":27,"v":6},{"p":"s","m":27,"v":10},{"p":"s","m":27,"v":15},{"p":"s","m":27,"v":20},{"p":"s","m":27,"v":25},{"p":"s","m":27,"v":30},{"p":"s","m":27,"v":36},{"p":"s","m":27,"v":40},{"p":"s","m":27,"v":45},{"p":"s","m":28,"v":4},{"p":"s","m":28,"v":33},{"p":"s","m":29,"v":20},{"p":"s","m":29,"v":25},{"p":"s","m":29,"v":29},{"p":"s","m":29,"v":53},{"p":"s","m":30,"v":3},{"p":"s","m":30,"v":8},{"p":"s","m":30,"v":12},{"p":"s","m":30,"v":18},{"p":"s","m":30,"v":24},{"p":"s","m":30,"v":40},{"p":"s","m":31,"v":14},{"p":"s","m":31,"v":18},{"p":"s","m":32,"v":30},{"p":"s","m":32,"v":36},{"p":"s","m":32,"v":40},{"p":"s","m":32,"v":45},{"p":"s","m":32,"v":50},{"p":"s","m":32,"v":57},{"p":"s","m":33,"v":5},{"p":"s","m":33,"v":12},{"p":"s","m":33,"v":18},{"p":"s","m":33,"v":24},{"p":"s","m":33,"v":30},{"p":"s","m":33,"v":36},{"p":"s","m":33,"v":43},{"p":"s","m":34,"v":8},{"p":"s","m":34,"v":15},{"p":"s","m":34,"v":22},{"p":"s","m":34,"v":38},{"p":"s","m":35,"v":35},{"p":"s","m":35,"v":42},{"p":"s","m":35,"v":48},{"p":"s","m":35,"v":50},{"p":"s","m":36,"v":2},{"p":"s","m":36,"v":8},{"p":"s","m":36,"v":15},{"p":"s","m":36,"v":22},{"p":"s","m":36,"v":28},{"p":"s","m":36,"v":35},{"p":"s","m":36,"v":42},{"p":"s","m":36,"v":48},{"p":"s","m":36,"v":55},{"p":"s","m":36,"v":60},{"p":"s","m":36,"v":63},{"p":"s","m":37,"v":50},{"p":"s","m":37,"v":55},{"p":"s","m":38,"v":0.5},{"p":"s","m":39,"v":7},{"p":"s","m":40,"v":38},{"p":"s","m":41,"v":2},{"p":"s","m":41,"v":6},{"p":"s","m":41,"v":10},{"p":"s","m":41,"v":14},{"p":"s","m":41,"v":18},{"p":"s","m":41,"v":22},{"p":"s","m":41,"v":26},{"p":"s","m":41,"v":33},
{"p":"v","m":1,"v":36},{"p":"v","m":1,"v":38},{"p":"v","m":2,"v":73},{"p":"v","m":2,"v":75},{"p":"v","m":3,"v":91},{"p":"v","m":3,"v":94},{"p":"v","m":3,"v":96},{"p":"v","m":4,"v":68},{"p":"v","m":4,"v":72},{"p":"v","m":4,"v":75},{"p":"v","m":5,"v":47},{"p":"v","m":5,"v":50},{"p":"v","m":5,"v":55},{"p":"v","m":6,"v":54},{"p":"v","m":6,"v":58},{"p":"v","m":6,"v":62},{"p":"v","m":7,"v":62},{"p":"v","m":7,"v":67},{"p":"v","m":7,"v":71},{"p":"v","m":8,"v":67},{"p":"v","m":8,"v":70},{"p":"v","m":9,"v":69},{"p":"v","m":9,"v":73},{"p":"v","m":10,"v":49},{"p":"v","m":10,"v":52},{"p":"v","m":10,"v":56},{"p":"v","m":10,"v":58},{"p":"v","m":11,"v":51},{"p":"v","m":12,"v":50},{"p":"v","m":12,"v":54},{"p":"v","m":13,"v":84},{"p":"v","m":13,"v":87},{"p":"v","m":13,"v":89},{"p":"v","m":13,"v":92},{"p":"v","m":14,"v":88},{"p":"v","m":15,"v":58},{"p":"v","m":15,"v":63},{"p":"v","m":16,"v":65},{"p":"v","m":17,"v":17},{"p":"v","m":17,"v":21},{"p":"v","m":18,"v":38},{"p":"v","m":19,"v":51},{"p":"v","m":20,"v":53},{"p":"v","m":21,"v":23},{"p":"v","m":21,"v":25},{"p":"v","m":21,"v":27},{"p":"v","m":21,"v":29},{"p":"v","m":21,"v":31},{"p":"v","m":22,"v":28},{"p":"v","m":23,"v":25},{"p":"v","m":23,"v":30},{"p":"v","m":23,"v":35},{"p":"v","m":23,"v":38},{"p":"v","m":23,"v":43},{"p":"v","m":24,"v":55},{"p":"v","m":24,"v":58},{"p":"v","m":25,"v":59},{"p":"v","m":26,"v":55},{"p":"v","m":26,"v":60},{"p":"v","m":26,"v":63},{"p":"v","m":27,"v":65},{"p":"v","m":27,"v":68},{"p":"v","m":27,"v":70},{"p":"v","m":28,"v":32},{"p":"v","m":28,"v":35},{"p":"v","m":29,"v":28},{"p":"v","m":30,"v":22},{"p":"v","m":30,"v":26},{"p":"v","m":30,"v":30},{"p":"v","m":31,"v":76},{"p":"v","m":32,"v":70},{"p":"v","m":32,"v":74},{"p":"v","m":33,"v":64},{"p":"v","m":33,"v":67},{"p":"v","m":33,"v":70},{"p":"v","m":34,"v":29},{"p":"v","m":34,"v":33},{"p":"v","m":35,"v":60},{"p":"v","m":36,"v":48},{"p":"v","m":36,"v":52},{"p":"v","m":37,"v":94},{"p":"v","m":37,"v":98},{"p":"v","m":38,"v":74},{"p":"v","m":39,"v":65},{"p":"v","m":40,"v":29},{"p":"v","m":41,"v":53},{"p":"v","m":41,"v":57},{"p":"v","m":41,"v":59},
{"p":"b","m":1,"v":0.45},{"p":"b","m":2,"v":1.25},{"p":"b","m":3,"v":0.85},{"p":"b","m":3,"v":0.92},
{"p":"e","m":1,"v":5},{"p":"e","m":1,"v":12},{"p":"e","m":2,"v":3},{"p":"e","m":3,"v":25},{"p":"e","m":3,"v":30},{"p":"e","m":3,"v":35},{"p":"e","m":3,"v":50},
{"p":"h","m":1,"v":0.08},{"p":"h","m":2,"v":0.2},{"p":"h","m":2,"v":0.22},{"p":"h","m":3,"v":0.23},{"p":"h","m":3,"v":0.24},
{"p":"k","m":1,"v":1.82},{"p":"k","m":2,"v":1.75},{"p":"k","m":2,"v":1.85},{"p":"k","m":3,"v":1.65},
{"p":"n","m":1,"v":2.7},{"p":"n","m":2,"v":3.75},{"p":"n","m":3,"v":1.75},
{"p":"q","m":1,"v":0.18},{"p":"q","m":2,"v":0.2},{"p":"q","m":3,"v":0.17},{"p":"q","m":3,"v":0.2},
{"p":"t","m":1,"v":42},{"p":"t","m":2,"v":60},{"p":"t","m":2,"v":66},
{"p":"w","m":1,"v":4},{"p":"w","m":1,"v":9},{"p":"w","m":2,"v":23},{"p":"w","m":2,"v":28}
]
},
"concat": [
{"width":269,"height":73,"title":{"text":["(a) Perf: double_ITCZ_bias (mm/day)","REF: GPCPv2.3"]},"layer":[
 {"data":{"name":"bars"},"transform":[{"filter":{"field":"p","equal":"a"}}],"mark":{"type":"bar","opacity":0.8},"encoding":{"x":{"field":"m","type":"ordinal","title":null},"y":{"field":"v","type":"quantitative","title":null,"scale":{"domain":[0,3.95],"nice":false},"axis":{"values":[0,1,2,3]}},"color":{"field":"m","type":"nominal","legend":null}}},
 {"data":{"name":"dots"},"transform":[{"filter":{"field":"p","equal":"a"}}],"mark":{"type":"circle","size":6,"color":"black","opacity":1},"encoding":{"x":{"field":"m","type":"ordinal","title":null},"y":{"field":"v","type":"quantitative","title":null,"scale":{"domain":[0,3.95],"nice":false},"axis":{"values":[0,1,2,3]}}}},
 {"data":{"name":"refs"},"transform":[{"filter":{"field":"p","equal":"a"}}],"mark":{"type":"rect","opacity":0.35},"encoding":{"y":{"field":"v","type":"quantitative","title":null,"scale":{"domain":[0,3.95],"nice":false},"axis":{"values":[0,1,2,3]}},"y2":{"datum":0},"fill":{"field":"n","type":"nominal","scale":{"range":["#9a9a9a"]},"legend":{"title":null}}}}
]},
{"width":28.3,"height":73,"layer":[
 {"data":{"name":"bars"},"transform":[{"filter":{"field":"p","equal":"b"}}],"mark":{"type":"bar","opacity":0.8,"clip":true},"encoding":{"x":{"field":"m","type":"ordinal","title":null,"scale":{"domain":[1,2,3,4],"range":[0,33]}},"y":{"field":"v","type":"quantitative","title":null,"scale":{"domain":[0,4],"nice":false},"axis":{"values":[0,2,4]}},"color":{"field":"m","type":"nominal","legend":null}}},
 {"data":{"name":"dots"},"transform":[{"filter":{"field":"p","equal":"b"}}],"mark":{"type":"circle","size":6,"color":"black","opacity":1,"clip":true},"encoding":{"x":{"field":"m","type":"ordinal","title":null,"scale":{"domain":[1,2,3,4],"range":[0,33]}},"y":{"field":"v","type":"quantitative","title":null,"scale":{"domain":[0,4],"nice":false},"axis":{"values":[0,2,4]}}}},
 {"data":{"name":"refs"},"transform":[{"filter":{"field":"p","equal":"b"}}],"mark":{"type":"rect","color":"#9a9a9a","opacity":0.35},"encoding":{"y":{"field":"v","type":"quantitative","title":null,"scale":{"domain":[0,4],"nice":false},"axis":{"values":[0,2,4]}},"y2":{"datum":0}}}
]},
{"width":269,"height":73,"title":{"text":["(d) Perf: eq_Taux_bias (1e-3 N/m2)","REF: ERA-INT"]},"layer":[
 {"data":{"name":"bars"},"transform":[{"filter":{"field":"p","equal":"d"}}],"mark":{"type":"bar","opacity":0.8},"encoding":{"x":{"field":"m","type":"ordinal","title":null},"y":{"field":"v","type":"quantitative","title":null,"scale":{"domain":[0,27.5],"nice":false},"axis":{"values":[0,10,20]}},"color":{"field":"m","type":"nominal","legend":null}}},
 {"data":{"name":"dots"},"transform":[{"filter":{"field":"p","equal":"d"}}],"mark":{"type":"circle","size":6,"color":"black","opacity":1},"encoding":{"x":{"field":"m","type":"ordinal","title":null},"y":{"field":"v","type":"quantitative","title":null,"scale":{"domain":[0,27.5],"nice":false},"axis":{"values":[0,10,20]}}}},
 {"data":{"name":"refs"},"transform":[{"filter":{"field":"p","equal":"d"}}],"mark":{"type":"rect","opacity":0.35},"encoding":{"y":{"field":"v","type":"quantitative","title":null,"scale":{"domain":[0,27.5],"nice":false},"axis":{"values":[0,10,20]}},"y2":{"datum":0},"fill":{"field":"n","type":"nominal","scale":{"range":["#9a9a9a"]},"legend":{"title":null}}}}
]},
{"width":28.3,"height":73,"layer":[
 {"data":{"name":"bars"},"transform":[{"filter":{"field":"p","equal":"e"}}],"mark":{"type":"bar","opacity":0.8,"clip":true},"encoding":{"x":{"field":"m","type":"ordinal","title":null,"scale":{"domain":[1,2,3,4],"range":[0,33]}},"y":{"field":"v","type":"quantitative","title":null,"scale":{"domain":[0,155],"nice":false},"axis":{"values":[0,50,100,150]}},"color":{"field":"m","type":"nominal","legend":null}}},
 {"data":{"name":"dots"},"transform":[{"filter":{"field":"p","equal":"e"}}],"mark":{"type":"circle","size":6,"color":"black","opacity":1,"clip":true},"encoding":{"x":{"field":"m","type":"ordinal","title":null,"scale":{"domain":[1,2,3,4],"range":[0,33]}},"y":{"field":"v","type":"quantitative","title":null,"scale":{"domain":[0,155],"nice":false},"axis":{"values":[0,50,100,150]}}}},
 {"data":{"name":"refs"},"transform":[{"filter":{"field":"p","equal":"e"}}],"mark":{"type":"rect","color":"#9a9a9a","opacity":0.35},"encoding":{"y":{"field":"v","type":"quantitative","title":null,"scale":{"domain":[0,155],"nice":false},"axis":{"values":[0,50,100,150]}},"y2":{"datum":0}}}
]},
{"width":269,"height":73,"title":{"text":["(g) Perf: ENSO_seasonality (Error %)","REF: HadISST"]},"layer":[
 {"data":{"name":"bars"},"transform":[{"filter":{"field":"p","equal":"g"}}],"mark":{"type":"bar","opacity":0.8},"encoding":{"x":{"field":"m","type":"ordinal","title":null},"y":{"field":"v","type":"quantitative","title":null,"scale":{"domain":[0,69.5],"nice":false},"axis":{"values":[0,20,40,60]}},"color":{"field":"m","type":"nominal","legend":null}}},
 {"data":{"name":"dots"},"transform":[{"filter":{"field":"p","equal":"g"}}],"mark":{"type":"circle","size":6,"color":"black","opacity":1},"encoding":{"x":{"field":"m","type":"ordinal","title":null},"y":{"field":"v","type":"quantitative","title":null,"scale":{"domain":[0,69.5],"nice":false},"axis":{"values":[0,20,40,60]}}}},
 {"data":{"name":"refs"},"transform":[{"filter":{"field":"p","equal":"g"}}],"mark":{"type":"rect","opacity":0.35},"encoding":{"y":{"field":"v","type":"quantitative","title":null,"scale":{"domain":[0,69.5],"nice":false},"axis":{"values":[0,20,40,60]}},"y2":{"datum":0},"fill":{"field":"n","type":"nominal","scale":{"range":["#9a9a9a"]},"legend":{"title":null}}}}
]},
{"width":28.3,"height":73,"layer":[
 {"data":{"name":"bars"},"transform":[{"filter":{"field":"p","equal":"h"}}],"mark":{"type":"bar","opacity":0.8,"clip":true},"encoding":{"x":{"field":"m","type":"ordinal","title":null,"scale":{"domain":[1,2,3,4],"range":[0,33]}},"y":{"field":"v","type":"quantitative","title":null,"scale":{"domain":[0,0.54],"nice":false},"axis":{"values":[0,0.2,0.4],"format":".1f"}},"color":{"field":"m","type":"nominal","legend":null}}},
 {"data":{"name":"dots"},"transform":[{"filter":{"field":"p","equal":"h"}}],"mark":{"type":"circle","size":6,"color":"black","opacity":1,"clip":true},"encoding":{"x":{"field":"m","type":"ordinal","title":null,"scale":{"domain":[1,2,3,4],"range":[0,33]}},"y":{"field":"v","type":"quantitative","title":null,"scale":{"domain":[0,0.54],"nice":false},"axis":{"values":[0,0.2,0.4],"format":".1f"}}}},
 {"data":{"name":"refs"},"transform":[{"filter":{"field":"p","equal":"h"}}],"mark":{"type":"rect","color":"#9a9a9a","opacity":0.35},"encoding":{"y":{"field":"v","type":"quantitative","title":null,"scale":{"domain":[0,0.54],"nice":false},"axis":{"values":[0,0.2,0.4],"format":".1f"}},"y2":{"datum":0}}}
]},
{"width":269,"height":73,"title":{"text":["(j) Perf: ENSO_lifecycle (C/C)","REF: HadISST"]},"layer":[
 {"data":{"name":"bars"},"transform":[{"filter":{"field":"p","equal":"j"}}],"mark":{"type":"bar","opacity":0.8},"encoding":{"x":{"field":"m","type":"ordinal","title":null},"y":{"field":"v","type":"quantitative","title":null,"scale":{"domain":[0,0.655],"nice":false},"axis":{"values":[0,0.2,0.4,0.6],"format":".1f"}},"color":{"field":"m","type":"nominal","legend":null}}},
 {"data":{"name":"dots"},"transform":[{"filter":{"field":"p","equal":"j"}}],"mark":{"type":"circle","size":6,"color":"black","opacity":1},"encoding":{"x":{"field":"m","type":"ordinal","title":null},"y":{"field":"v","type":"quantitative","title":null,"scale":{"domain":[0,0.655],"nice":false},"axis":{"values":[0,0.2,0.4,0.6],"format":".1f"}}}},
 {"data":{"name":"refs"},"transform":[{"filter":{"field":"p","equal":"j"}}],"mark":{"type":"rect","opacity":0.35},"encoding":{"y":{"field":"v","type":"quantitative","title":null,"scale":{"domain":[0,0.655],"nice":false},"axis":{"values":[0,0.2,0.4,0.6],"format":".1f"}},"y2":{"datum":0},"fill":{"field":"n","type":"nominal","scale":{"range":["#9a9a9a"]},"legend":{"title":null}}}}
]},
{"width":28.3,"height":73,"title":{"text":["(k"," "],"anchor":"start","frame":"group","dx":15},"layer":[
 {"data":{"name":"bars"},"transform":[{"filter":{"field":"p","equal":"k"}}],"mark":{"type":"bar","opacity":0.8,"clip":true},"encoding":{"x":{"field":"m","type":"ordinal","title":null,"scale":{"domain":[1,2,3,4],"range":[0,33]}},"y":{"field":"v","type":"quantitative","title":null,"scale":{"domain":[0,2.87],"nice":false},"axis":{"values":[0,1,2]}},"color":{"field":"m","type":"nominal","legend":null}}},
 {"data":{"name":"dots"},"transform":[{"filter":{"field":"p","equal":"k"}}],"mark":{"type":"circle","size":6,"color":"black","opacity":1,"clip":true},"encoding":{"x":{"field":"m","type":"ordinal","title":null,"scale":{"domain":[1,2,3,4],"range":[0,33]}},"y":{"field":"v","type":"quantitative","title":null,"scale":{"domain":[0,2.87],"nice":false},"axis":{"values":[0,1,2]}}}},
 {"data":{"name":"refs"},"transform":[{"filter":{"field":"p","equal":"k"}}],"mark":{"type":"rect","color":"#9a9a9a","opacity":0.35},"encoding":{"y":{"field":"v","type":"quantitative","title":null,"scale":{"domain":[0,2.87],"nice":false},"axis":{"values":[0,1,2]}},"y2":{"datum":0}}}
]},
{"width":269,"height":73,"title":{"text":["(m) Perf: eq_SST_sea_cycle (C)","REF: HadISST"]},"layer":[
 {"data":{"name":"bars"},"transform":[{"filter":{"field":"p","equal":"m"}}],"mark":{"type":"bar","opacity":0.8},"encoding":{"x":{"field":"m","type":"ordinal","title":null},"y":{"field":"v","type":"quantitative","title":"Metric Value","scale":{"domain":[0,1.21],"nice":false},"axis":{"values":[0,0.5,1],"format":".1f","titleFontSize":11,"titleFontWeight":"bold","titleColor":"black","titlePadding":11,"titleY":28}},"color":{"field":"m","type":"nominal","legend":null}}},
 {"data":{"name":"dots"},"transform":[{"filter":{"field":"p","equal":"m"}}],"mark":{"type":"circle","size":6,"color":"black","opacity":1},"encoding":{"x":{"field":"m","type":"ordinal","title":null},"y":{"field":"v","type":"quantitative","title":"Metric Value","scale":{"domain":[0,1.21],"nice":false},"axis":{"values":[0,0.5,1],"format":".1f","titleFontSize":11,"titleFontWeight":"bold","titleColor":"black","titlePadding":11,"titleY":28}}}},
 {"data":{"name":"refs"},"transform":[{"filter":{"field":"p","equal":"m"}}],"mark":{"type":"rect","opacity":0.35},"encoding":{"y":{"field":"v","type":"quantitative","title":"Metric Value","scale":{"domain":[0,1.21],"nice":false},"axis":{"values":[0,0.5,1],"format":".1f","titleFontSize":11,"titleFontWeight":"bold","titleColor":"black","titlePadding":11,"titleY":28}},"y2":{"datum":0},"fill":{"field":"n","type":"nominal","scale":{"range":["#9a9a9a"]},"legend":{"title":null}}}}
]},
{"width":28.3,"height":73,"layer":[
 {"data":{"name":"bars"},"transform":[{"filter":{"field":"p","equal":"n"}}],"mark":{"type":"bar","opacity":0.8,"clip":true},"encoding":{"x":{"field":"m","type":"ordinal","title":null,"scale":{"domain":[1,2,3,4],"range":[0,33]}},"y":{"field":"v","type":"quantitative","title":null,"scale":{"domain":[0,8.45],"nice":false},"axis":{"values":[0,2.5,5,7.5],"format":".1f"}},"color":{"field":"m","type":"nominal","legend":null}}},
 {"data":{"name":"dots"},"transform":[{"filter":{"field":"p","equal":"n"}}],"mark":{"type":"circle","size":6,"color":"black","opacity":1,"clip":true},"encoding":{"x":{"field":"m","type":"ordinal","title":null,"scale":{"domain":[1,2,3,4],"range":[0,33]}},"y":{"field":"v","type":"quantitative","title":null,"scale":{"domain":[0,8.45],"nice":false},"axis":{"values":[0,2.5,5,7.5],"format":".1f"}}}},
 {"data":{"name":"refs"},"transform":[{"filter":{"field":"p","equal":"n"}}],"mark":{"type":"rect","color":"#9a9a9a","opacity":0.35},"encoding":{"y":{"field":"v","type":"quantitative","title":null,"scale":{"domain":[0,8.45],"nice":false},"axis":{"values":[0,2.5,5,7.5],"format":".1f"}},"y2":{"datum":0}}}
]},
{"width":269,"height":73,"title":{"text":["(p) Tel: JJA_PR_teleconnection (mm/day/C)","REF: ERA-INT"]},"layer":[
 {"data":{"name":"bars"},"transform":[{"filter":{"field":"p","equal":"pp"}}],"mark":{"type":"bar","opacity":0.8},"encoding":{"x":{"field":"m","type":"ordinal","title":null},"y":{"field":"v","type":"quantitative","title":null,"scale":{"domain":[0,0.62],"nice":false},"axis":{"values":[0,0.2,0.4,0.6],"format":".1f"}},"color":{"field":"m","type":"nominal","legend":null}}},
 {"data":{"name":"dots"},"transform":[{"filter":{"field":"p","equal":"pp"}}],"mark":{"type":"circle","size":6,"color":"black","opacity":1},"encoding":{"x":{"field":"m","type":"ordinal","title":null},"y":{"field":"v","type":"quantitative","title":null,"scale":{"domain":[0,0.62],"nice":false},"axis":{"values":[0,0.2,0.4,0.6],"format":".1f"}}}},
 {"data":{"name":"refs"},"transform":[{"filter":{"field":"p","equal":"pp"}}],"mark":{"type":"rect","opacity":0.35},"encoding":{"y":{"field":"v","type":"quantitative","title":null,"scale":{"domain":[0,0.62],"nice":false},"axis":{"values":[0,0.2,0.4,0.6],"format":".1f"}},"y2":{"datum":0},"fill":{"field":"n","type":"nominal","scale":{"range":["#9a9a9a"]},"legend":{"title":null}}}}
]},
{"width":28.3,"height":73,"layer":[
 {"data":{"name":"bars"},"transform":[{"filter":{"field":"p","equal":"q"}}],"mark":{"type":"bar","opacity":0.8,"clip":true},"encoding":{"x":{"field":"m","type":"ordinal","title":null,"scale":{"domain":[1,2,3,4],"range":[0,33]}},"y":{"field":"v","type":"quantitative","title":null,"scale":{"domain":[0,0.54],"nice":false},"axis":{"values":[0,0.2,0.4],"format":".1f"}},"color":{"field":"m","type":"nominal","legend":null}}},
 {"data":{"name":"dots"},"transform":[{"filter":{"field":"p","equal":"q"}}],"mark":{"type":"circle","size":6,"color":"black","opacity":1,"clip":true},"encoding":{"x":{"field":"m","type":"ordinal","title":null,"scale":{"domain":[1,2,3,4],"range":[0,33]}},"y":{"field":"v","type":"quantitative","title":null,"scale":{"domain":[0,0.54],"nice":false},"axis":{"values":[0,0.2,0.4],"format":".1f"}}}},
 {"data":{"name":"refs"},"transform":[{"filter":{"field":"p","equal":"q"}}],"mark":{"type":"rect","color":"#9a9a9a","opacity":0.35},"encoding":{"y":{"field":"v","type":"quantitative","title":null,"scale":{"domain":[0,0.54],"nice":false},"axis":{"values":[0,0.2,0.4],"format":".1f"}},"y2":{"datum":0}}}
]},
{"width":269,"height":73,"title":{"text":["(s) Proc: ocean_driven_SST (Error %)","REF: ERA-INT"]},"layer":[
 {"data":{"name":"bars"},"transform":[{"filter":{"field":"p","equal":"s"}}],"mark":{"type":"bar","opacity":0.8},"encoding":{"x":{"field":"m","type":"ordinal","title":null},"y":{"field":"v","type":"quantitative","title":null,"scale":{"domain":[0,129.6],"nice":false},"axis":{"values":[0,50,100]}},"color":{"field":"m","type":"nominal","legend":null}}},
 {"data":{"name":"dots"},"transform":[{"filter":{"field":"p","equal":"s"}}],"mark":{"type":"circle","size":6,"color":"black","opacity":1},"encoding":{"x":{"field":"m","type":"ordinal","title":null},"y":{"field":"v","type":"quantitative","title":null,"scale":{"domain":[0,129.6],"nice":false},"axis":{"values":[0,50,100]}}}}
]},
{"width":28.3,"height":73,"layer":[
 {"data":{"name":"bars"},"transform":[{"filter":{"field":"p","equal":"t"}}],"mark":{"type":"bar","opacity":0.8,"clip":true},"encoding":{"x":{"field":"m","type":"ordinal","title":null,"scale":{"domain":[1,2,3,4],"range":[0,33]}},"y":{"field":"v","type":"quantitative","title":null,"scale":{"domain":[0,200],"nice":false},"axis":{"values":[0,50,100,150]}},"color":{"field":"m","type":"nominal","legend":null}}},
 {"data":{"name":"dots"},"transform":[{"filter":{"field":"p","equal":"t"}}],"mark":{"type":"circle","size":6,"color":"black","opacity":1,"clip":true},"encoding":{"x":{"field":"m","type":"ordinal","title":null,"scale":{"domain":[1,2,3,4],"range":[0,33]}},"y":{"field":"v","type":"quantitative","title":null,"scale":{"domain":[0,200],"nice":false},"axis":{"values":[0,50,100,150]}}}}
]},
{"width":269,"height":73,"title":{"text":["(v) Proc: SST-NHF_feedback (Error %)","REF: ERA-INT"]},"layer":[
 {"data":{"name":"bars"},"transform":[{"filter":{"field":"p","equal":"v"}}],"mark":{"type":"bar","opacity":0.8},"encoding":{"x":{"field":"m","type":"ordinal","title":null,"axis":{"labels":true,"labelAngle":-90}},"y":{"field":"v","type":"quantitative","title":null,"scale":{"domain":[0,101.4],"nice":false},"axis":{"values":[0,50,100]}},"color":{"field":"m","type":"nominal","legend":null}}},
 {"data":{"name":"dots"},"transform":[{"filter":{"field":"p","equal":"v"}}],"mark":{"type":"circle","size":6,"color":"black","opacity":1},"encoding":{"x":{"field":"m","type":"ordinal","title":null,"axis":{"labels":true,"labelAngle":-90}},"y":{"field":"v","type":"quantitative","title":null,"scale":{"domain":[0,101.4],"nice":false},"axis":{"values":[0,50,100]}}}}
]},
{"width":28.3,"height":73,"layer":[
 {"data":{"name":"bars"},"transform":[{"filter":{"field":"p","equal":"w"}}],"mark":{"type":"bar","opacity":0.8,"clip":true},"encoding":{"x":{"field":"m","type":"ordinal","title":null,"scale":{"domain":[1,2,3,4],"range":[0,33]},"axis":{"labels":true,"labelAngle":-90,"values":[1,2,3]}},"y":{"field":"v","type":"quantitative","title":null,"scale":{"domain":[0,93],"nice":false},"axis":{"values":[0,25,50,75]}},"color":{"field":"m","type":"nominal","legend":null}}},
 {"data":{"name":"dots"},"transform":[{"filter":{"field":"p","equal":"w"}}],"mark":{"type":"circle","size":6,"color":"black","opacity":1,"clip":true},"encoding":{"x":{"field":"m","type":"ordinal","title":null,"scale":{"domain":[1,2,3,4],"range":[0,33]},"axis":{"labels":true,"labelAngle":-90,"values":[1,2,3]}},"y":{"field":"v","type":"quantitative","title":null,"scale":{"domain":[0,93],"nice":false},"axis":{"values":[0,25,50,75]}}}}
]}
],
"config": {
 "font": "DejaVu Sans",
 "view": {"stroke": "#333333", "strokeWidth": 0.8},
 "scale": {"bandPaddingInner": 0.3, "bandPaddingOuter": 0.6},
 "range": {"category": ["#393b79","#5254a3","#6b6ecf","#9c9ede","#637939","#8ca252","#b5cf6b","#cedb9c","#8c6d31","#bd9e39","#e7ba52","#e7cb94","#843c39","#ad494a","#d6616b","#e7969c","#7b4173","#a55194","#ce6dbd","#de9ed6","#3182bd","#6baed6","#9ecae1","#c6dbef","#e6550d","#fd8d3c","#fdae6b","#fdd0a2","#31a354","#74c476","#a1d99b","#c7e9c0","#756bb1","#9e9ac8","#bcbddc","#dadaeb","#636363","#969696","#bdbdbd","#d9d9d9","#393b79"]},
 "axis": {"domain": false, "grid": false, "ticks": true, "tickSize": 3, "tickColor": "#333333", "tickWidth": 0.8, "labelFontSize": 7, "labelColor": "#333333", "labelPadding": 2.5, "labelFont": "DejaVu Sans", "labelOverlap": false, "labelFlush": false, "labelBound": false},
 "axisY": {"minExtent": 18, "maxExtent": 18},
 "axisX": {"labels": false},
 "title": {"font": "DejaVu Sans", "fontSize": 10, "fontWeight": "bold", "color": "black", "lineHeight": 11, "offset": 2},
 "legend": {"orient": "top-right", "offset": 5, "padding": 4, "strokeColor": "#cccccc", "fillColor": "white", "cornerRadius": 2, "labelFontSize": 8.3, "labelColor": "#333333", "labelFont": "DejaVu Sans", "symbolType": "M-1,-0.35H1V0.35H-1Z", "symbolSize": 361, "symbolStrokeWidth": 0, "symbolOpacity": 0.35, "labelOffset": 6}
}
}
